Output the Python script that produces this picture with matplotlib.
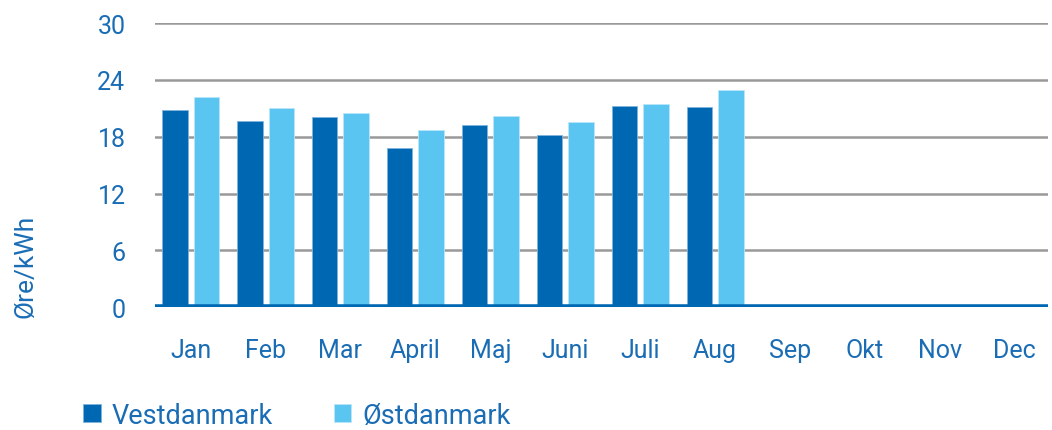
import matplotlib.pyplot as plt
import numpy as np

months = ["Jan", "Feb", "Mar", "April", "Maj", "Juni", "Juli", "Aug", "Sep", "Okt", "Nov", "Dec"]
vest = [20.8, 19.7, 20.1, 16.8, 19.2, 18.2, 21.2, 21.1]
oest = [22.2, 21.0, 20.5, 18.7, 20.2, 19.6, 21.5, 22.9]
yticks = [0, 6, 12, 18, 24, 30]

dark = "#0068b3"
light = "#5bc5f2"
txt = "#1a6db5"

plt.rcParams['font.family'] = ['Roboto', 'DejaVu Sans']

fig = plt.figure(figsize=(10.52, 4.31), dpi=100)
ax = fig.add_axes([0.147, 0.285, 0.849, 0.659])

x = np.arange(len(months))
w = 0.34
ax.bar(x[:len(vest)] - 0.21, vest, w, color=dark, edgecolor="#7fb3dc", linewidth=0.6, zorder=3, label="Vestdanmark")
ax.bar(x[:len(oest)] + 0.21, oest, w, color=light, edgecolor="#b9e6fa", linewidth=0.6, zorder=3, label="Østdanmark")

ax.set_xlim(-0.48, len(months) - 0.56)
ax.set_ylim(0, 30)
ax.set_yticks(yticks)
ax.set_xticks(x)
ax.set_xticklabels(months)
ax.yaxis.grid(True, color="#999999", linewidth=1.8, zorder=0)
ax.axhline(0, color=dark, linewidth=4, zorder=4)
for s in ax.spines.values():
    s.set_visible(False)
ax.tick_params(axis='both', length=0, labelsize=18, labelcolor=txt)
ax.tick_params(axis='y', pad=21)
ax.tick_params(axis='x', pad=22)

fig.text(0.024, 0.383, "Øre/kWh", rotation=90, color=txt, fontsize=19, ha='center', va='center')

leg = fig.legend(loc='center left', bbox_to_anchor=(0.079, 0.034), ncol=2, frameon=False,
                 fontsize=19.5, handlelength=0.65, handleheight=0.65, handletextpad=0.4,
                 columnspacing=2.25, borderaxespad=0, borderpad=0)
for t in leg.get_texts():
    t.set_color(txt)

plt.savefig("out.png", dpi=100)
